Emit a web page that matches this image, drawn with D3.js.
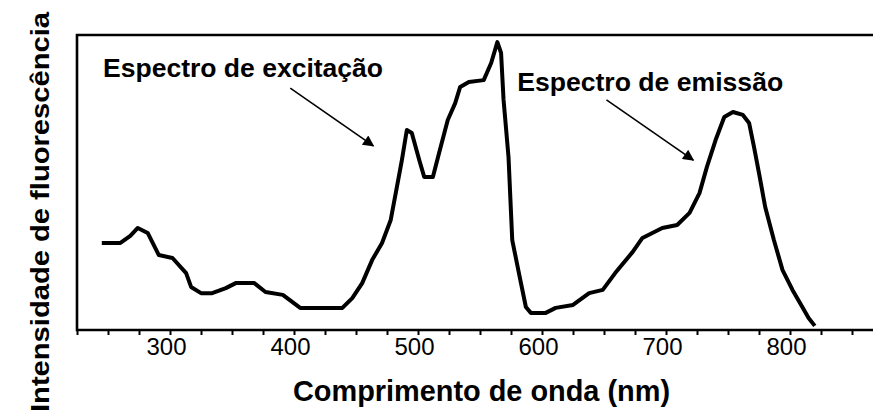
<!DOCTYPE html>
<html>
<head>
<meta charset="utf-8">
<script src="https://cdn.jsdelivr.net/npm/d3@7/dist/d3.min.js"></script>
<style>
  body { margin: 0; background: #fff; }
  svg { display: block; }
</style>
</head>
<body>
<div id="vis"></div>
<script>
// wavelength (nm) and fluorescence intensity (arbitrary units, 0..1)
const wavelength = [245, 260, 268, 274, 282, 291, 302, 313, 317, 325, 334, 345, 353, 368, 377, 391, 405, 439,
  447, 455, 463, 471, 478, 483, 487, 491, 495, 501, 505, 512, 517, 524, 530, 534, 541, 553, 559, 564, 567,
  569, 573, 576, 582, 587, 591, 603, 611, 625, 638, 649, 659, 673, 681, 697, 709, 719, 727, 733, 740, 747,
  754, 762, 767, 771, 775, 780, 787, 794, 802, 809, 815, 820];
const intensity = [0.295, 0.295, 0.319, 0.346, 0.329, 0.254, 0.244, 0.193, 0.146, 0.125, 0.125, 0.142, 0.159,
  0.159, 0.129, 0.119, 0.075, 0.075, 0.108, 0.159, 0.237, 0.295, 0.373, 0.485, 0.576, 0.678, 0.668, 0.576,
  0.519, 0.519, 0.600, 0.712, 0.769, 0.824, 0.841, 0.847, 0.905, 0.976, 0.939, 0.780, 0.586, 0.305, 0.180,
  0.078, 0.058, 0.058, 0.075, 0.085, 0.125, 0.136, 0.193, 0.264, 0.312, 0.346, 0.356, 0.397, 0.464, 0.553,
  0.644, 0.722, 0.739, 0.729, 0.702, 0.620, 0.532, 0.417, 0.305, 0.203, 0.136, 0.085, 0.041, 0.014];

const tickLabels = [300, 400, 500, 600, 700, 800];
const minorTicks = d3.range(225, 876, 25);

// annotations: label text, label anchor, arrow start and tip (data units)
const annotations = [
  { text: "Espectro de excitação", x: 246, y: 0.858, len: 280, from: [397, 0.82], to: [464, 0.624] },
  { text: "Espectro de emissão", x: 580, y: 0.81, len: 266, from: [652, 0.78], to: [722, 0.576] }
];

const svg = d3.select("#vis")
    .append("svg")
    .attr("width", 873)
    .attr("height", 415);

const x = d3.scaleLinear().domain([225, 875]).range([77, 883]);
const y = d3.scaleLinear().domain([0, 1]).range([330, 35]);

svg.append("defs").append("marker")
    .attr("id", "head")
    .attr("viewBox", "0 0 10 10")
    .attr("refX", 9).attr("refY", 5)
    .attr("markerWidth", 9).attr("markerHeight", 7)
    .attr("markerUnits", "strokeWidth")
    .attr("orient", "auto")
    .append("path")
    .attr("d", "M0,0L10,5L0,10Z")
    .attr("fill", "#000");

// frame
svg.append("path")
    .attr("d", `M${x(875)},${y(1)}H${x(225)}V${y(0)}H${x(875)}`)
    .attr("fill", "none")
    .attr("stroke", "#000")
    .attr("stroke-width", 2.6);

// minor/major ticks on bottom
svg.append("g")
    .attr("transform", `translate(0,${y(0)})`)
    .call(d3.axisBottom(x).tickValues(minorTicks).tickSize(5).tickFormat(""))
    .call(g => g.select(".domain").remove())
    .selectAll("line").attr("stroke-width", 2);

const labels = svg.append("g")
    .attr("transform", `translate(0,${y(0)})`)
    .call(d3.axisBottom(x).tickValues(tickLabels).tickSize(0).tickPadding(0));
labels.select(".domain").remove();
labels.selectAll("text")
    .attr("font-family", "'Liberation Sans Narrow', 'Liberation Sans', Arial, sans-serif")
    .attr("font-size", 24)
    .attr("fill", "#000")
    .attr("dx", -4)
    .attr("y", 25)
    .attr("dy", 0)
    .attr("textLength", 40)
    .attr("lengthAdjust", "spacingAndGlyphs");

// spectrum line
const line = d3.line()
    .x(d => x(d[0]))
    .y(d => y(d[1]));

svg.append("path")
    .datum(d3.zip(wavelength, intensity))
    .attr("d", line)
    .attr("fill", "none")
    .attr("stroke", "#000")
    .attr("stroke-width", 4)
    .attr("stroke-linejoin", "round");

// annotations
annotations.forEach(a => {
  svg.append("text")
      .attr("x", x(a.x))
      .attr("y", y(a.y))
      .attr("font-family", "'Liberation Sans', Arial, sans-serif")
      .attr("font-weight", "bold")
      .attr("font-size", 25)
      .attr("textLength", a.len)
      .attr("lengthAdjust", "spacingAndGlyphs")
      .text(a.text);
  svg.append("line")
      .attr("x1", x(a.from[0])).attr("y1", y(a.from[1]))
      .attr("x2", x(a.to[0])).attr("y2", y(a.to[1]))
      .attr("stroke", "#000")
      .attr("stroke-width", 1.6)
      .attr("marker-end", "url(#head)");
});

// axis titles
svg.append("text")
    .attr("x", (293 + 670) / 2)
    .attr("y", 401)
    .attr("text-anchor", "middle")
    .attr("font-family", "'Liberation Sans', Arial, sans-serif")
    .attr("font-weight", "bold")
    .attr("font-size", 30)
    .attr("textLength", 377)
    .attr("lengthAdjust", "spacingAndGlyphs")
    .text("Comprimento de onda (nm)");

svg.append("text")
    .attr("transform", "translate(49,212) rotate(-90)")
    .attr("text-anchor", "middle")
    .attr("font-family", "'Liberation Sans', Arial, sans-serif")
    .attr("font-weight", "bold")
    .attr("font-size", 25)
    .attr("textLength", 400)
    .attr("lengthAdjust", "spacingAndGlyphs")
    .text("Intensidade de fluorescência");
</script>
</body>
</html>
